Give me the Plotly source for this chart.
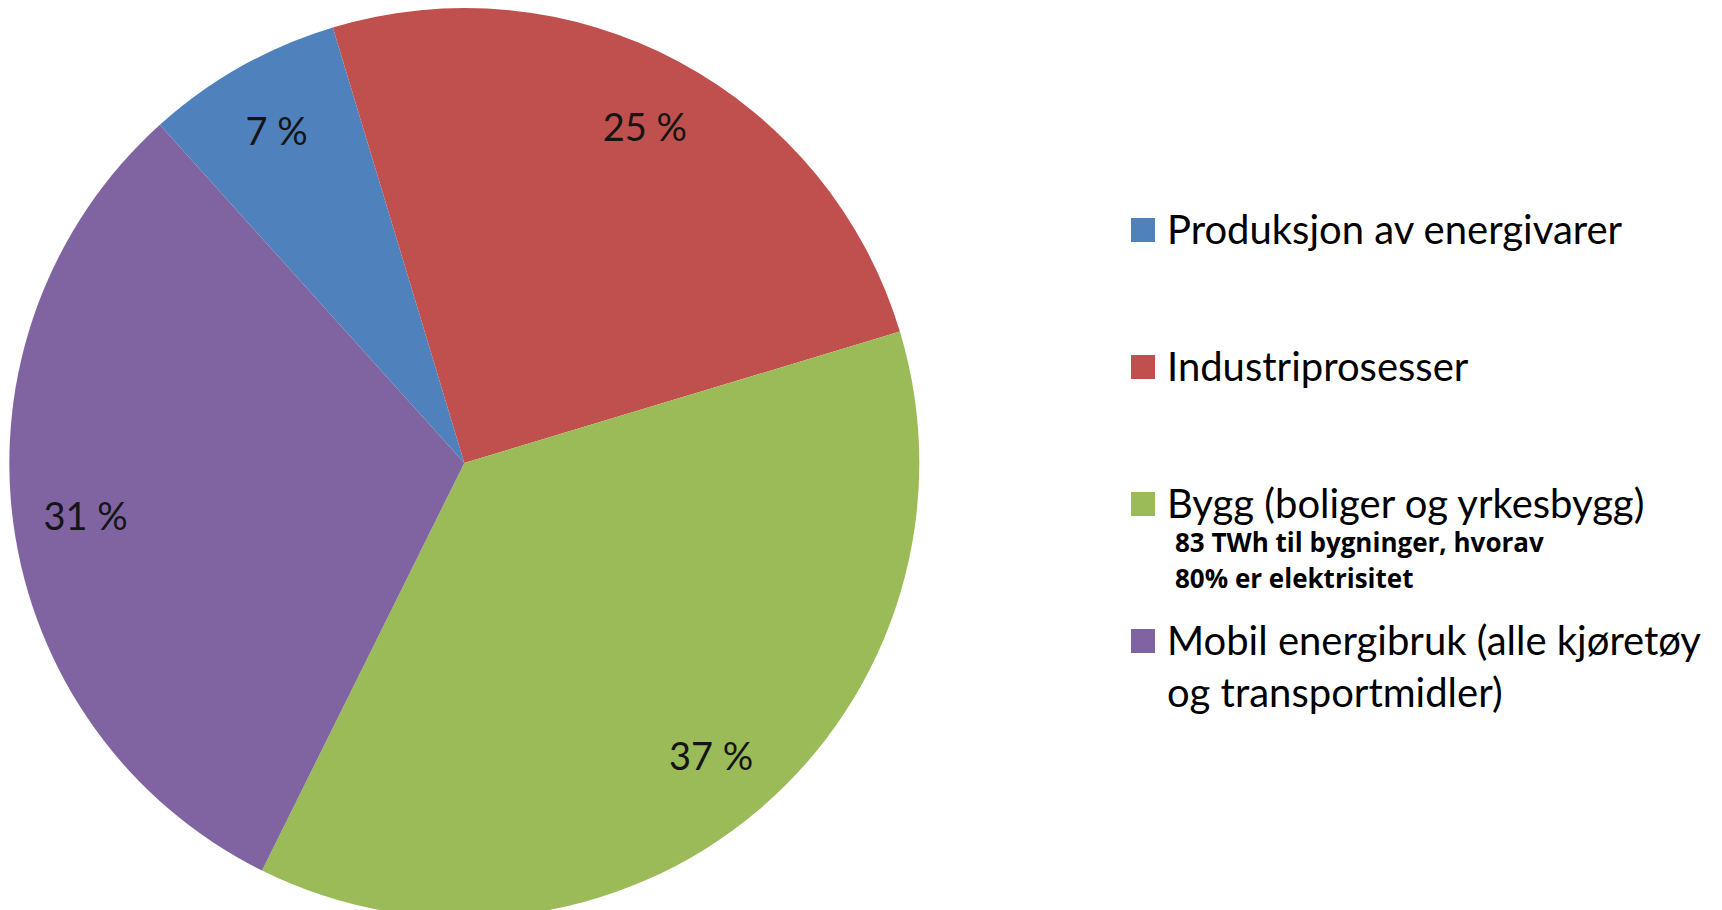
import plotly.graph_objects as go

# Data
kategorier = [
    "Produksjon av energivarer",
    "Industriprosesser",
    "Bygg (boliger og yrkesbygg)",
    "Mobil energibruk (alle kjøretøy<br>og transportmidler)",
]
andel = [7, 25, 37, 31]
farger = ["#4F81BD", "#C0504D", "#9BBB59", "#8064A2"]
notat = ["83 TWh til bygninger, hvorav", "80% er elektrisitet"]

FONT = "Lato"
W, H = 1722, 910

fig = go.Figure()

# main pie
fig.add_trace(go.Pie(
    labels=kategorier,
    values=andel,
    sort=False,
    direction="clockwise",
    rotation=-42,
    marker=dict(colors=farger, line=dict(width=0)),
    textinfo="none",
    domain=dict(x=[0.0, 0.53], y=[0.0, 1.0]),
    showlegend=False,
))

# transparent ring on top, only used to put the % labels out near the rim
fig.add_trace(go.Pie(
    labels=kategorier,
    values=andel,
    sort=False,
    direction="clockwise",
    rotation=-42,
    hole=0.68,
    marker=dict(colors=["rgba(0,0,0,0)"] * len(andel), line=dict(width=0)),
    texttemplate="%{value} %",
    textposition="inside",
    insidetextorientation="horizontal",
    textfont=dict(family=FONT, size=38, color="#151515"),
    domain=dict(x=[0.0, 0.53], y=[0.0, 1.0]),
    showlegend=False,
    hoverinfo="skip",
))

# legend on the right (big Excel-style keys + wide spacing)
LEG_X = 1123      # px, left of key square
LEG_Y0 = 222      # px, centre of first entry
LEG_STEP = 137    # px between entries
KEY = 24          # key square size
LEG_SIZE = 40

for i, (navn, farge) in enumerate(zip(kategorier, farger)):
    yc = LEG_Y0 + i * LEG_STEP
    fig.add_shape(
        type="rect", xref="paper", yref="paper",
        x0=LEG_X / W, x1=(LEG_X + KEY) / W,
        y0=1 - (yc + KEY / 2) / H, y1=1 - (yc - KEY / 2) / H,
        fillcolor=farge, line=dict(width=0),
    )
    fig.add_annotation(
        text=navn,
        xref="paper", yref="paper",
        x=(LEG_X + KEY + 10) / W, y=1 - (yc - 0.65 * LEG_SIZE - 1) / H,
        xanchor="left", yanchor="top", align="left",
        showarrow=False,
        font=dict(family=FONT, size=LEG_SIZE, color="black"),
    )

# note under the "Bygg" entry
for i, linje in enumerate(notat):
    fig.add_annotation(
        text="<b>" + linje + "</b>",
        xref="paper", yref="paper",
        x=1165 / W, y=1 - (534 + i * 36) / H,
        xanchor="left", yanchor="middle",
        showarrow=False,
        font=dict(family="Open Sans", size=26, color="black"),
    )

fig.update_layout(
    width=W,
    height=H,
    margin=dict(l=0, r=0, t=0, b=0),
    paper_bgcolor="white",
    plot_bgcolor="white",
    font=dict(family=FONT, color="black"),
)

fig.write_html("out.html")
